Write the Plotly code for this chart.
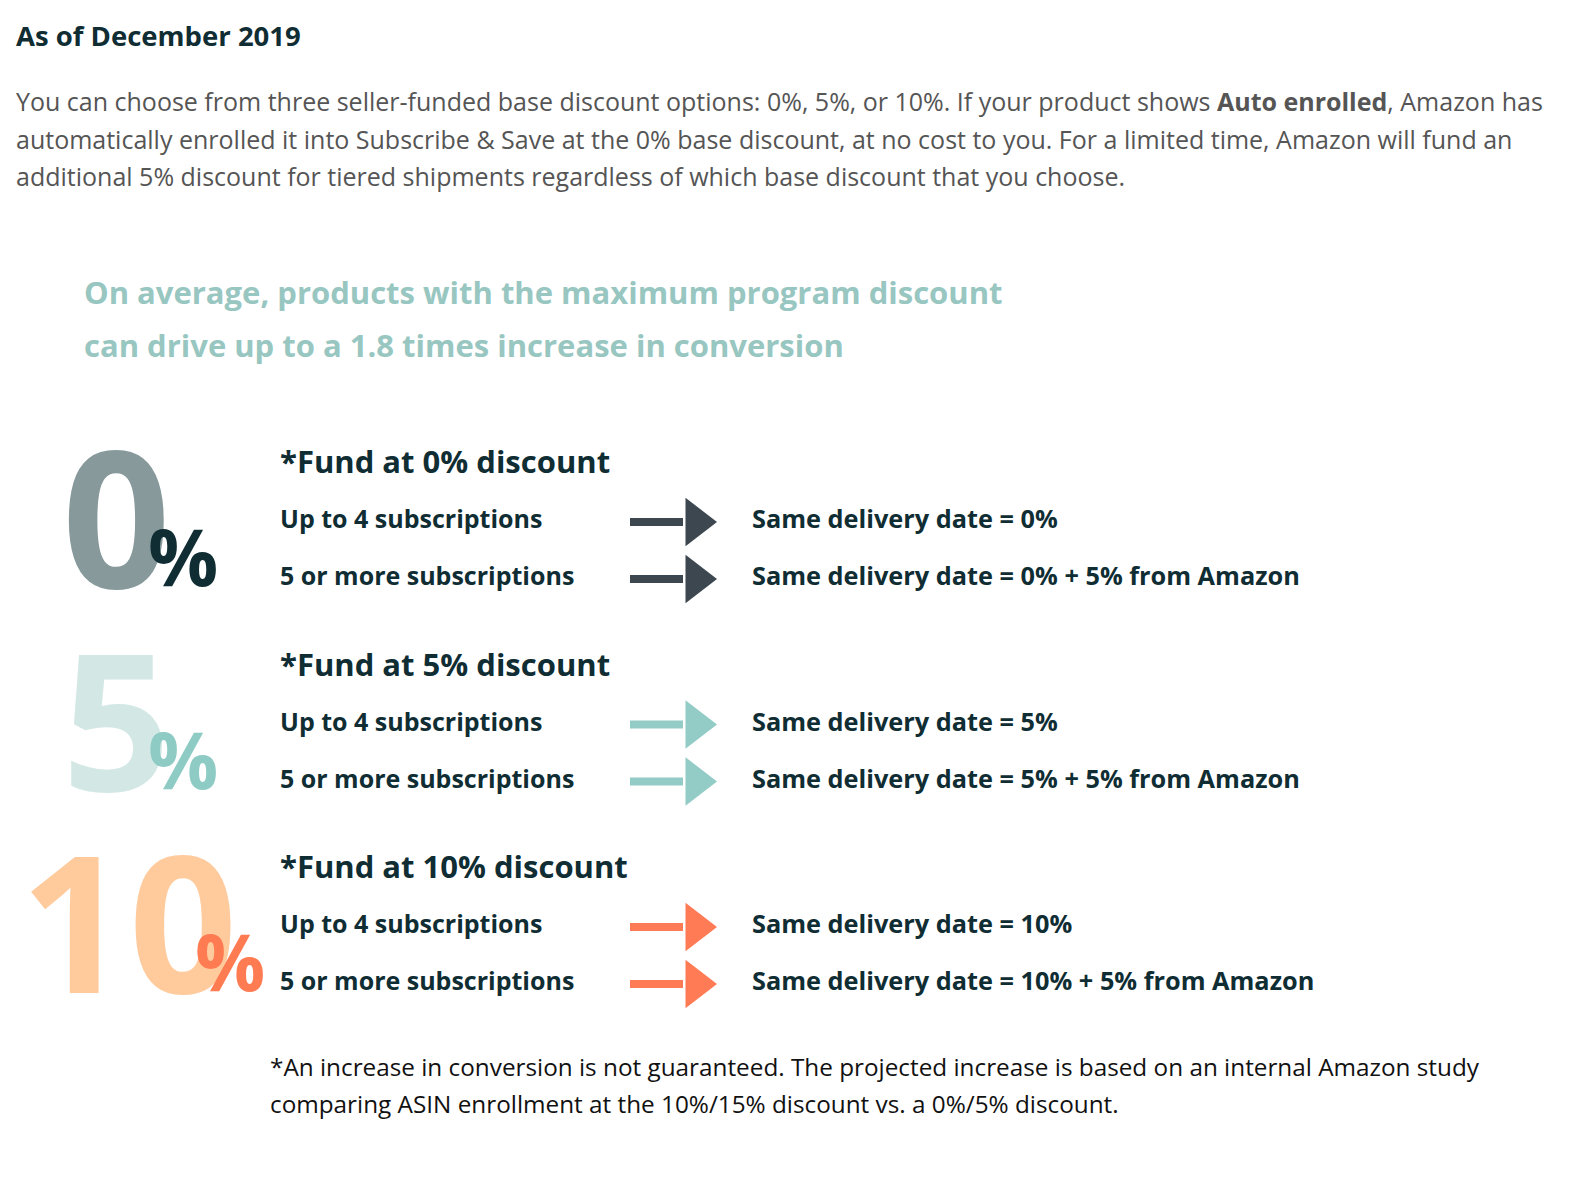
import plotly.graph_objects as go

# tiers of the infographic
tier_pct = ["0", "5", "10"]
tier_titles = ["*Fund at 0% discount", "*Fund at 5% discount", "*Fund at 10% discount"]
row_left = ["Up to 4 subscriptions", "5 or more subscriptions"]
row_right = [
    ["Same delivery date = 0%", "Same delivery date = 0% + 5% from Amazon"],
    ["Same delivery date = 5%", "Same delivery date = 5% + 5% from Amazon"],
    ["Same delivery date = 10%", "Same delivery date = 10% + 5% from Amazon"],
]
big_colors = ["#87999b", "#d3e8e5", "#ffca9c"]
pct_colors = ["#0f2d33", "#8ecbc5", "#ff7b52"]
arrow_colors = ["#3c4750", "#93ccc6", "#ff7b56"]

header = "As of December 2019"
intro = ["You can choose from three seller-funded base discount options: 0%, 5%, or 10%. If your product shows <b>Auto enrolled</b>, Amazon has",
         "automatically enrolled it into Subscribe &amp; Save at the 0% base discount, at no cost to you. For a limited time, Amazon will fund an",
         "additional 5% discount for tiered shipments regardless of which base discount that you choose."]
headline = ["On average, products with the maximum program discount",
            "can drive up to a 1.8 times increase in conversion"]
footnote = ["*An increase in conversion is not guaranteed. The projected increase is based on an internal Amazon study",
            "comparing ASIN enrollment at the 10%/15% discount vs. a 0%/5% discount."]

FONT = "Open Sans"
DARK = "#0f2d33"
fig = go.Figure()
ann = []

def txt(x, y, s, size, color, bold=False, anchor="left", yanchor="middle"):
    ann.append(dict(x=x, y=y, text=f"<b>{s}</b>" if bold else s, showarrow=False,
                    xanchor=anchor, yanchor=yanchor, align="left",
                    font=dict(family=FONT, size=size, color=color)))

txt(6, 27, header, 27.5, DARK, bold=True)
for i, line in enumerate(intro):
    txt(6, 93 + 37.5 * i, line, 25, "#555")
for i, h in enumerate(headline):
    txt(74, 284 + 53 * i, h, 31, "#98c6c1", bold=True)

for t in range(3):
    y0 = 453 + 202.5 * t
    big_x = 108 if t < 2 else 120
    txt(big_x, y0 + 185, tier_pct[t], 190, big_colors[t], bold=True, anchor="center", yanchor="bottom")
    pct_x = 175 if t < 2 else 222
    txt(pct_x, y0 + 150, "%", 78, pct_colors[t], bold=True, anchor="center", yanchor="bottom")
    txt(270, y0, tier_titles[t], 31, DARK, bold=True)
    for r in range(2):
        y = y0 + 57 + 57 * r
        txt(270, y, row_left[r], 25, DARK, bold=True)
        txt(742, y, row_right[t][r], 25.3, DARK, bold=True)
        fig.add_trace(go.Scatter(x=[622, 675], y=[y + 4, y + 4], mode="lines",
                                 line=dict(color=arrow_colors[t], width=8), hoverinfo="skip"))
        fig.add_trace(go.Scatter(x=[688], y=[y + 4], mode="markers",
                                 marker=dict(symbol="triangle-right", size=42, color=arrow_colors[t]),
                                 hoverinfo="skip"))

for i, line in enumerate(footnote):
    txt(260, 1058 + 37 * i, line, 24.3, "#111")

fig.update_layout(width=1594, height=1192, margin=dict(l=0, r=0, t=0, b=0),
                  paper_bgcolor="white", plot_bgcolor="white", showlegend=False,
                  annotations=ann,
                  xaxis=dict(range=[0, 1594], visible=False, fixedrange=True),
                  yaxis=dict(range=[1192, 0], visible=False, fixedrange=True))
fig.write_html("out.html")
